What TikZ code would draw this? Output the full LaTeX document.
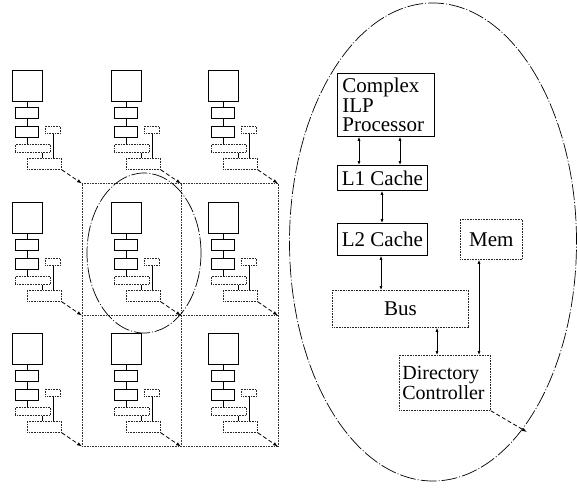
\documentclass[tikz,border=0pt]{standalone}
\usepackage{fontspec}
\setmainfont{Liberation Serif}
\usetikzlibrary{arrows.meta,calc}
\begin{document}
\begin{tikzpicture}[x=1pt,y=-1pt,
  solidbox/.style={draw=black, line width=0.8pt, inner sep=0pt, anchor=north west},
  dotbox/.style={draw=black!85, dash pattern=on 1pt off 0.6pt, line width=0.8pt, inner sep=0pt, anchor=north west},
  minisolid/.style={draw=black, line width=0.8pt, inner sep=0pt, anchor=north west},
  minidot/.style={draw=black!85, dash pattern=on 1pt off 0.6pt, line width=0.8pt, inner sep=0pt, anchor=north west},
  miniline/.style={draw=black, line width=0.7pt},
  gridline/.style={draw=black!80, dash pattern=on 1pt off 0.6pt, line width=0.8pt},
  minidash/.style={draw=black, dash pattern=on 4pt off 2.5pt, line width=0.8pt, -{Latex[length=5pt,width=3.5pt]}},
  linkarrow/.style={draw=black, line width=0.7pt, {Latex[length=4pt,width=3pt]}-{Latex[length=4pt,width=3pt]}},
  bigtext/.style={font=\fontsize{21}{19.5}\selectfont},
  dirtext/.style={font=\fontsize{20}{20}\selectfont},
  ovalline/.style={draw=black, line width=0.7pt, dash pattern=on 16pt off 2pt on 1pt off 2pt}
]
\useasboundingbox (0,0) rectangle (577,488);

% mini nodes 3x3
\foreach \c/\x in {1/12,2/111,3/208}{
  \foreach \r/\y in {1/70,2/202,3/333}{
    \begin{scope}[shift={(\x,\y)}]
      \node[minisolid, minimum width=30pt, minimum height=31pt] (msq-\c-\r) at (0,0) {};
      \node[minisolid, minimum width=23pt, minimum height=11pt] (ml1-\c-\r) at (3,37) {};
      \node[minisolid, minimum width=23pt, minimum height=11pt] (ml2-\c-\r) at (3,56) {};
      \node[minidot, minimum width=15pt, minimum height=7pt] (mmem-\c-\r) at (33,56) {};
      \node[minidot, minimum width=35pt, minimum height=8pt] (mbus-\c-\r) at (3,74) {};
      \node[minidot, minimum width=34pt, minimum height=11pt] (mdir-\c-\r) at (15,88) {};
      \coordinate (g-\c-\r) at (70,113.5);
      \draw[miniline] (msq-\c-\r.south) -- (ml1-\c-\r.north -| msq-\c-\r.south);
      \draw[miniline] (ml1-\c-\r.south -| msq-\c-\r.south) -- (ml2-\c-\r.north -| msq-\c-\r.south);
      \draw[miniline] (ml2-\c-\r.south -| msq-\c-\r.south) -- (mbus-\c-\r.north -| msq-\c-\r.south);
      \draw[miniline] (mbus-\c-\r.south -| 30,0) -- (mdir-\c-\r.north -| 30,0);
      \draw[miniline] (mmem-\c-\r.south) -- (mdir-\c-\r.north -| mmem-\c-\r.south);
    \end{scope}
  }
}

% grid
\foreach \r in {1,2,3}{ \draw[gridline] (g-1-\r) -- (g-3-\r); }
\foreach \c in {1,2,3}{ \draw[gridline] (g-\c-1) -- (g-\c-3); }

% dashed arrows from each mini directory to grid corners
\foreach \c in {1,2,3}{
  \foreach \r in {1,2,3}{
    \draw[minidash] (mdir-\c-\r.south east) -- (g-\c-\r);
  }
}

% small ellipse around the selected node
\draw[ovalline] (144,253) ellipse [x radius=57pt, y radius=80pt];

% big ellipse
\draw[ovalline] (433,242) ellipse [x radius=143.5pt, y radius=239pt];

% detail nodes
\node[solidbox, bigtext, minimum width=97pt, minimum height=63pt, text width=87pt, inner xsep=5pt, align=left] (proc) at (337,73) {Complex\\ILP\\Processor};
\node[solidbox, bigtext, minimum width=90pt, minimum height=25pt] (l1) at (337,165) {L1 Cache};
\node[solidbox, bigtext, minimum width=90pt, minimum height=32pt] (l2) at (337,223) {L2 Cache};
\node[dotbox, bigtext, minimum width=62pt, minimum height=40pt] (mem) at (460,219) {Mem};
\node[dotbox, bigtext, minimum width=136pt, minimum height=37pt] (bus) at (332,290) {Bus};
\node[dotbox, dirtext, minimum width=91pt, minimum height=55pt, text width=85pt, inner xsep=3pt, align=left] (dir) at (399,355) {Directory\\Controller};
\coordinate (exit) at (527,432);

\draw[linkarrow] (proc.south -| 359,0) -- (l1.north -| 359,0);
\draw[linkarrow] (proc.south -| 400,0) -- (l1.north -| 400,0);
\draw[linkarrow] (l1.south -| 382,0) -- (l2.north -| 382,0);
\draw[linkarrow] (l2.south -| 381,0) -- (bus.north -| 381,0);
\draw[linkarrow] (bus.south -| 437,0) -- (dir.north -| 437,0);
\draw[linkarrow] (mem.south -| 479,0) -- (dir.north -| 479,0);
\draw[minidash] (dir.south east) -- (exit);
\end{tikzpicture}
\end{document}
